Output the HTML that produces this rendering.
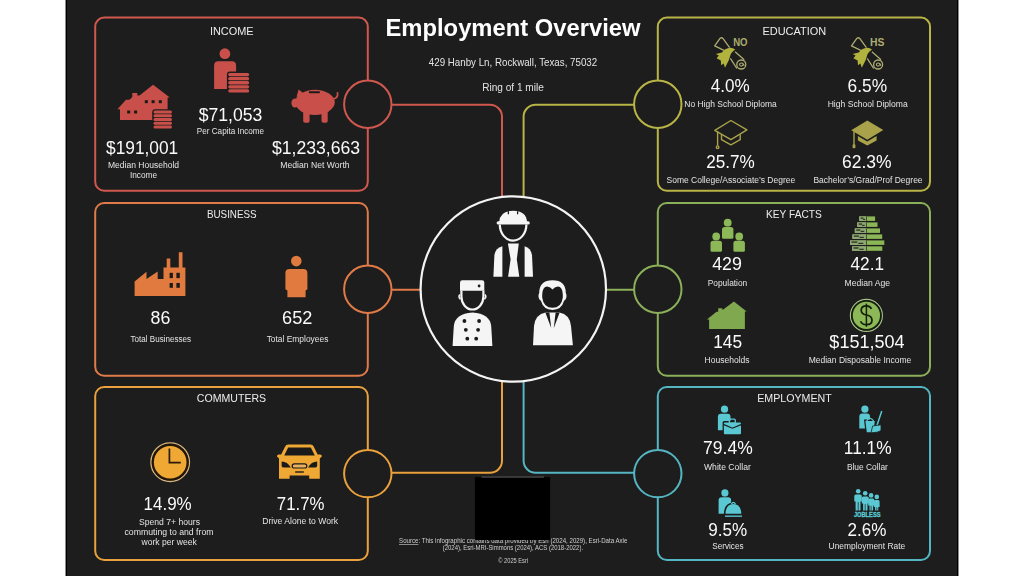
<!DOCTYPE html>
<html><head><meta charset="utf-8"><title>Employment Overview</title>
<style>
html,body{margin:0;padding:0;background:#fff;width:1024px;height:576px;overflow:hidden}
svg{display:block;position:absolute;left:0;top:0}
#ov{will-change:transform}
text{font-family:"Liberation Sans",sans-serif;text-anchor:middle}
</style></head><body>
<svg width="1024" height="576" viewBox="0 0 1024 576">
<rect x="0" y="0" width="1024" height="576" fill="#fff"/>
<rect x="65" y="0" width="894" height="576" fill="#8a8a8a"/>
<rect x="66" y="0" width="892" height="576" fill="#000"/>
<rect x="67" y="0" width="890" height="576" fill="#1c1d1c"/>
<rect x="95.2" y="17.6" width="272.6" height="173.2" rx="9" fill="none" stroke="#d0584e" stroke-width="2"/>
<rect x="95.2" y="203" width="272.6" height="172.8" rx="9" fill="none" stroke="#e07a48" stroke-width="2"/>
<rect x="95.2" y="387" width="272.6" height="173" rx="9" fill="none" stroke="#eaa03c" stroke-width="2"/>
<rect x="657.8" y="17.6" width="272.2" height="173.2" rx="9" fill="none" stroke="#b9b446" stroke-width="2"/>
<rect x="657.8" y="203" width="272.2" height="172.8" rx="9" fill="none" stroke="#8caf5a" stroke-width="2"/>
<rect x="657.8" y="387" width="272.2" height="173" rx="9" fill="none" stroke="#55b6c3" stroke-width="2"/>
<path d="M391.5,104.8 H490 A12,12 0 0 1 502,116.8 V205" fill="none" stroke="#d0584e" stroke-width="2"/>
<path d="M634,104.8 H535.6 A12,12 0 0 0 523.6,116.8 V205" fill="none" stroke="#b9b446" stroke-width="2"/>
<path d="M391.5,289.8 H425" fill="none" stroke="#e07a48" stroke-width="2"/>
<path d="M600,289.8 H634" fill="none" stroke="#8caf5a" stroke-width="2"/>
<path d="M391.5,472.8 H490 A12,12 0 0 0 502,460.8 V375" fill="none" stroke="#eaa03c" stroke-width="2"/>
<path d="M634,472.8 H535.6 A12,12 0 0 1 523.6,460.8 V375" fill="none" stroke="#55b6c3" stroke-width="2"/>
<circle cx="367.8" cy="104.3" r="23.7" fill="#1c1d1c" stroke="#d0584e" stroke-width="2"/>
<circle cx="367.8" cy="289.3" r="23.7" fill="#1c1d1c" stroke="#e07a48" stroke-width="2"/>
<circle cx="367.8" cy="473.6" r="23.7" fill="#1c1d1c" stroke="#eaa03c" stroke-width="2"/>
<circle cx="657.8" cy="104.3" r="23.7" fill="#1c1d1c" stroke="#b9b446" stroke-width="2"/>
<circle cx="657.8" cy="289.3" r="23.7" fill="#1c1d1c" stroke="#8caf5a" stroke-width="2"/>
<circle cx="657.8" cy="473.6" r="23.7" fill="#1c1d1c" stroke="#55b6c3" stroke-width="2"/>
<circle cx="513.3" cy="289" r="92.7" fill="#1c1d1c" stroke="#f4f4f4" stroke-width="2.2"/>
<path fill="#c9504a" d="M117.4,109.2 L126,99.8 L129.5,99.8 L132.3,97 L132.3,93 L137.3,93 L137.3,95.5 L139.5,95.5 L153.1,84.8 L169.8,97.6 L167.6,97.6 L167.6,120 L120,120 L120,109.2 Z"/>
<rect x="144.8" y="100.2" width="3" height="3" fill="#1a1a1a"/>
<rect x="151.6" y="100.2" width="3" height="3" fill="#1a1a1a"/>
<rect x="158.8" y="100.2" width="3" height="3" fill="#1a1a1a"/>
<rect x="127.2" y="110.5" width="3" height="3" fill="#1a1a1a"/>
<rect x="134.1" y="110.5" width="3" height="3" fill="#1a1a1a"/>
<rect x="152.2" y="109.3" width="21.1" height="20.35" rx="3" fill="#1c1d1c"/>
<rect x="153.5" y="110.60" width="18.5" height="3.0" rx="1.50" fill="#c9504a"/>
<rect x="153.5" y="114.35" width="18.5" height="3.0" rx="1.50" fill="#c9504a"/>
<rect x="153.5" y="118.10" width="18.5" height="3.0" rx="1.50" fill="#c9504a"/>
<rect x="153.5" y="121.85" width="18.5" height="3.0" rx="1.50" fill="#c9504a"/>
<rect x="153.5" y="125.60" width="18.5" height="3.0" rx="1.50" fill="#c9504a"/>
<circle cx="224.9" cy="53.7" r="5.4" fill="#c9504a"/>
<path fill="#c9504a" d="M214.1,65.5 Q214.1,61.2 218.4,61.2 H231.8 Q236.1,61.2 236.1,65.5 V88.9 H214.1 Z"/>
<rect x="226.89999999999998" y="71.60000000000001" width="23.6" height="22.1" rx="3" fill="#1c1d1c"/>
<rect x="228.2" y="72.90" width="21" height="3.3" rx="1.65" fill="#c9504a"/>
<rect x="228.2" y="77.00" width="21" height="3.3" rx="1.65" fill="#c9504a"/>
<rect x="228.2" y="81.10" width="21" height="3.3" rx="1.65" fill="#c9504a"/>
<rect x="228.2" y="85.20" width="21" height="3.3" rx="1.65" fill="#c9504a"/>
<rect x="228.2" y="89.30" width="21" height="3.3" rx="1.65" fill="#c9504a"/>
<g fill="#c9504a"><ellipse cx="315" cy="102.3" rx="19.8" ry="12.6"/><ellipse cx="295" cy="103" rx="3.6" ry="4.6"/><path d="M296.5,97 L298.6,89.4 L305,94.5 Z"/><rect x="303.2" y="108" width="6.4" height="14.7" rx="1.8"/><rect x="321.5" y="108" width="6.2" height="14.7" rx="1.8"/></g>
<path d="M333.5,99 Q338.5,97.5 337.5,93" fill="none" stroke="#c9504a" stroke-width="1.8" stroke-linecap="round"/>
<rect x="308.8" y="91.2" width="11.2" height="2" rx="1" fill="#1a1a1a"/>
<path fill="#e07a3e" d="M134.6,296.1 V281.5 L146.5,271.8 V279 L157.7,271.5 V279 H163.5 V267.4 H166.7 V258.6 H170.3 V267.4 H178.8 V252.3 H182.5 V267.4 H185.4 V296.1 Z"/>
<rect x="169.6" y="272.8" width="3.3" height="5.3" fill="#1a1a1a"/>
<rect x="176.4" y="272.8" width="3.4" height="5.3" fill="#1a1a1a"/>
<rect x="169.6" y="283" width="3.3" height="4.8" fill="#1a1a1a"/>
<rect x="176.4" y="283" width="3.4" height="4.8" fill="#1a1a1a"/>
<circle cx="296.3" cy="261.1" r="5.3" fill="#e07a3e"/>
<path fill="#e07a3e" d="M285.4,273.2 Q285.4,269.1 289.5,269.1 H303.3 Q307.4,269.1 307.4,273.2 V289.2 L305.6,290.5 V297.2 H287.4 V290.5 L285.4,289.2 Z"/>
<circle cx="170.2" cy="462.2" r="19.3" fill="none" stroke="#d8b47e" stroke-width="1.3"/>
<circle cx="170.2" cy="462.2" r="18.4" fill="#221608"/>
<circle cx="170.2" cy="462.2" r="16.3" fill="#f0a834"/>
<path d="M169.4,448.4 V462.6 H180.8" fill="none" stroke="#2a1a08" stroke-width="1.7"/>
<path fill="#f0a834" d="M288.3,444.6 H310.6 Q312.8,444.6 313.8,446.8 L317.6,454.6 L320.2,454.4 Q322.3,454.6 321.8,456.6 L319.8,458.4 V478.7 H309.2 V475.4 H289.6 V478.7 H279 V458.4 L277,456.6 Q276.6,454.6 278.6,454.4 L281.2,454.6 L285,446.8 Q286,444.6 288.3,444.6 Z"/>
<path fill="#1a1a1a" d="M288.2,447.4 H310.8 L314.8,455.4 H284.2 Z"/>
<path fill="#1a1a1a" d="M281.6,461.6 Q287.5,461.8 290.8,467.6 H284 Q281.6,467.6 281.6,465.4 Z"/>
<path fill="#1a1a1a" d="M317.2,461.6 Q311.3,461.8 308,467.6 H314.8 Q317.2,467.6 317.2,465.4 Z"/>
<rect x="292.2" y="463.8" width="14.6" height="4.2" rx="2.1" fill="#e8b060" stroke="#1a1a1a" stroke-width="1.2"/>
<rect x="295.2" y="471.3" width="8.6" height="1.4" fill="#1a1a1a"/>
<g transform="translate(0,0)"><path d="M729.6,47.7 L723.1,38.6 Q721.7,37.2 720.2,38.2 L714.7,45.9 L726,51.3" fill="none" stroke="#aeac72" stroke-width="1.3" stroke-linejoin="round"/><path d="M735.1,51.7 L744.2,59.7 M730.4,58.3 L736.9,68.5" fill="none" stroke="#aeac72" stroke-width="1.3"/><circle cx="741.3" cy="64.5" r="4.5" fill="#1c1d1c" stroke="#aeac72" stroke-width="1.3"/><path d="M742.8,64.6 A1.6,1.6 0 1 1 741.2,63 A2.8,2.8 0 0 1 744,66" fill="none" stroke="#aeac72" stroke-width="1.1"/><path fill="#b2b23e" d="M725.2,49.2 Q731,46 735.2,49.4 Q732.4,51.4 730.8,54 L728.8,60.2 L725,67.8 L723.6,63.4 L721.2,65.2 L720.8,60.6 L716.6,58.2 L718.8,55.6 L715.8,53.9 L721.8,52.4 Z"/><text x="740.4" y="45.9" font-size="10.2" font-weight="bold" fill="#aeac72" textLength="14.4" lengthAdjust="spacingAndGlyphs">NO</text></g>
<g transform="translate(136.8,0)"><path d="M729.6,47.7 L723.1,38.6 Q721.7,37.2 720.2,38.2 L714.7,45.9 L726,51.3" fill="none" stroke="#aeac72" stroke-width="1.3" stroke-linejoin="round"/><path d="M735.1,51.7 L744.2,59.7 M730.4,58.3 L736.9,68.5" fill="none" stroke="#aeac72" stroke-width="1.3"/><circle cx="741.3" cy="64.5" r="4.5" fill="#1c1d1c" stroke="#aeac72" stroke-width="1.3"/><path d="M742.8,64.6 A1.6,1.6 0 1 1 741.2,63 A2.8,2.8 0 0 1 744,66" fill="none" stroke="#aeac72" stroke-width="1.1"/><path fill="#b2b23e" d="M725.2,49.2 Q731,46 735.2,49.4 Q732.4,51.4 730.8,54 L728.8,60.2 L725,67.8 L723.6,63.4 L721.2,65.2 L720.8,60.6 L716.6,58.2 L718.8,55.6 L715.8,53.9 L721.8,52.4 Z"/><text x="740.4" y="45.9" font-size="10.2" font-weight="bold" fill="#aeac72" textLength="14.4" lengthAdjust="spacingAndGlyphs">HS</text></g>
<g fill="none" stroke="#a9a24a" stroke-width="1.4" stroke-linejoin="round"><path d="M714.8,130.3 L730.9,120.5 L746.9,129.9 L730.9,139.7 Z"/><path d="M721.5,134.6 V139.7 L730.9,144.8 L740.2,139.7 V134.6"/><path d="M717.6,131.3 V145.6"/><circle cx="717.6" cy="147.2" r="1.3"/></g>
<g transform="translate(136.4,0)"><path fill="#a9a24a" d="M714.8,130.3 L730.9,120.5 L746.9,129.9 L730.9,139.7 Z"/><path fill="#a9a24a" d="M721.5,136 L730.9,141.4 L740.2,136 V140.5 L730.9,145.6 L721.5,140.5 Z"/><path d="M717.6,131.3 V144.8" stroke="#a9a24a" stroke-width="1.4"/><rect x="716.2" y="144.2" width="2.8" height="4" rx="0.8" fill="#a9a24a"/></g>
<circle cx="727.7" cy="222.7" r="3.9" fill="#8cb858"/>
<path fill="#8cb858" d="M722,229.4 Q722,226.9 724.5,226.9 H730.9 Q733.4,226.9 733.4,229.4 V237.3 Q733.4,238.8 731.9,238.8 H723.5 Q722,238.8 722,237.3 Z"/>
<circle cx="716.2" cy="236.5" r="3.9" fill="#8cb858"/>
<path fill="#8cb858" d="M710.5,243.2 Q710.5,240.7 713.0,240.7 H719.5 Q722,240.7 722,243.2 V250.3 Q722,251.8 720.5,251.8 H712.0 Q710.5,251.8 710.5,250.3 Z"/>
<circle cx="739.2" cy="236.5" r="3.9" fill="#8cb858"/>
<path fill="#8cb858" d="M733.4,243.2 Q733.4,240.7 735.9,240.7 H742.4 Q744.9,240.7 744.9,243.2 V250.3 Q744.9,251.8 743.4,251.8 H734.9 Q733.4,251.8 733.4,250.3 Z"/>
<rect x="859.2" y="216.4" width="15.9" height="4.5" fill="#8ab656"/>
<rect x="859.2" y="216.4" width="7.4" height="4.5" fill="#8fa676"/>
<rect x="860.7" y="217.4" width="2.6" height="1.4" fill="#2e3a22"/>
<rect x="862.9" y="218.8" width="2.2" height="1.2" fill="#2e3a22"/>
<rect x="866.2" y="216.4" width="0.8" height="4.5" fill="#2e3a22"/>
<rect x="857.2" y="222.4" width="20.3" height="4.5" fill="#8ab656"/>
<rect x="857.2" y="222.4" width="9.4" height="4.5" fill="#8fa676"/>
<rect x="858.7" y="223.4" width="3.3" height="1.4" fill="#2e3a22"/>
<rect x="861.9" y="224.8" width="2.8" height="1.2" fill="#2e3a22"/>
<rect x="866.2" y="222.4" width="0.8" height="4.5" fill="#2e3a22"/>
<rect x="854.8" y="228.4" width="25.2" height="4.5" fill="#8ab656"/>
<rect x="854.8" y="228.4" width="11.8" height="4.5" fill="#8fa676"/>
<rect x="856.3" y="229.4" width="4.1" height="1.4" fill="#2e3a22"/>
<rect x="860.7" y="230.8" width="3.5" height="1.2" fill="#2e3a22"/>
<rect x="866.2" y="228.4" width="0.8" height="4.5" fill="#2e3a22"/>
<rect x="852.4" y="234.4" width="29.8" height="4.5" fill="#8ab656"/>
<rect x="852.4" y="234.4" width="14.2" height="4.5" fill="#8fa676"/>
<rect x="853.9" y="235.4" width="5.0" height="1.4" fill="#2e3a22"/>
<rect x="859.5" y="236.8" width="4.3" height="1.2" fill="#2e3a22"/>
<rect x="866.2" y="234.4" width="0.8" height="4.5" fill="#2e3a22"/>
<rect x="850" y="240.4" width="34.3" height="4.5" fill="#8ab656"/>
<rect x="850" y="240.4" width="16.6" height="4.5" fill="#8fa676"/>
<rect x="851.5" y="241.4" width="5.8" height="1.4" fill="#2e3a22"/>
<rect x="858.3" y="242.8" width="5.0" height="1.2" fill="#2e3a22"/>
<rect x="866.2" y="240.4" width="0.8" height="4.5" fill="#2e3a22"/>
<rect x="852" y="246.3" width="30.3" height="4.5" fill="#8ab656"/>
<rect x="852" y="246.3" width="14.6" height="4.5" fill="#8fa676"/>
<rect x="853.5" y="247.3" width="5.1" height="1.4" fill="#2e3a22"/>
<rect x="859.3" y="248.70000000000002" width="4.4" height="1.2" fill="#2e3a22"/>
<rect x="866.2" y="246.3" width="0.8" height="4.5" fill="#2e3a22"/>
<path fill="#80a84e" d="M706.9,319.5 L716.5,311.8 L718.2,311.8 L718.2,308.2 L722.2,308.2 L722.2,309.6 L723.3,309.6 L733.9,301.6 L746.7,311.5 L744.9,311.5 L744.9,329 L709.1,329 L709.1,319.5 Z"/>
<circle cx="866.4" cy="315.4" r="16" fill="none" stroke="#a8c088" stroke-width="1.2"/>
<circle cx="866.4" cy="315.4" r="15.2" fill="#14200c"/>
<circle cx="866.4" cy="315.4" r="13.6" fill="#8cb858"/>
<path d="M871.5,308.8 Q870,305.8 866.4,305.8 Q861.2,305.8 861.2,310.2 Q861.2,314 866.4,315 Q872,316 872,320.2 Q872,324.6 866.4,324.6 Q862,324.6 860.6,321.2" fill="none" stroke="#14200c" stroke-width="1.7"/>
<path d="M866.4,303.6 V326.8" stroke="#14200c" stroke-width="1.5"/>
<circle cx="724.5" cy="409.2" r="3.6" fill="#5ac8d2"/>
<path fill="#5ac8d2" d="M717.9,416.8 Q717.9,413.8 720.9,413.8 H727.5 Q730.5,413.8 730.5,416.8 V430.3 H717.9 Z"/>
<rect x="722.6" y="421.1" width="19.6" height="14.4" rx="1.5" fill="#1c1d1c"/>
<rect x="729.3" y="419.2" width="6" height="4" rx="1" fill="none" stroke="#5ac8d2" stroke-width="1.3"/>
<rect x="723.9" y="422.4" width="17.1" height="11.9" rx="1" fill="#5ac8d2"/>
<path d="M723.9,424.6 L732.4,428.2 L741,424.6" fill="none" stroke="#1c1d1c" stroke-width="1.2"/>
<circle cx="864.9" cy="409.2" r="3.6" fill="#5ac8d2"/>
<path fill="#5ac8d2" d="M859.3,416.4 Q859.3,413.4 862.3,413.4 H867 Q870,413.4 870,416.4 V428.6 H859.3 Z"/>
<path d="M864,419.5 L876,419.5 L874.2,433.6 L865.6,433.6 Z" fill="#1c1d1c"/>
<path d="M865.4,421 H874.8 L873.4,432.2 H866.8 Z" fill="#5ac8d2"/>
<path d="M866.6,421 Q870.1,415.6 873.6,421" fill="none" stroke="#5ac8d2" stroke-width="1.2"/>
<path d="M881.6,411.6 L876.8,426" stroke="#5ac8d2" stroke-width="1.5" stroke-linecap="round"/>
<path d="M872.6,426 L881,424.8 L881,430.6 Q878,432.8 871,432.8 Z" fill="#5ac8d2" stroke="#1c1d1c" stroke-width="0.8"/>
<circle cx="724.9" cy="492.9" r="3.6" fill="#5ac8d2"/>
<path fill="#5ac8d2" d="M718.6,500.2 Q718.6,497.2 721.6,497.2 H728.1 Q731.1,497.2 731.1,500.2 V513.7 H718.6 Z"/>
<path d="M723.8,514.6 Q724,502.4 733.4,502.4 Q742.8,502.4 743,514.6 Z" fill="#1c1d1c"/>
<path d="M725.5,513.8 Q725.8,504 733.4,504 Q741,504 741.3,513.8 Z" fill="#5ac8d2"/>
<path d="M731.2,504.2 Q733.4,500.6 735.6,504.2" fill="none" stroke="#5ac8d2" stroke-width="1.2"/>
<rect x="725" y="515.4" width="17" height="1.6" fill="#5ac8d2" opacity="0.85"/>
<circle cx="858.2" cy="491.3" r="2.3" fill="#5ac8d2"/>
<path fill="#5ac8d2" d="M854.3,496.1 Q854.3,494.6 855.8,494.6 H860.3 Q861.8,494.6 861.8,496.1 V501.6 H860.5 V510.4 H855.5999999999999 V501.6 H854.3 Z"/>
<path d="M858.2,502.1 V510.6" stroke="#1c1d1c" stroke-width="0.7"/>
<circle cx="865.2" cy="493.2" r="2.3" fill="#5ac8d2"/>
<path fill="#5ac8d2" d="M861.8,498.1 Q861.8,496.6 863.3,496.6 H867.3 Q868.8,496.6 868.8,498.1 V503.6 H867.5 V510.4 H863.0999999999999 V503.6 H861.8 Z"/>
<path d="M865.2,504.1 V510.6" stroke="#1c1d1c" stroke-width="0.7"/>
<circle cx="871.1" cy="495.4" r="2.3" fill="#5ac8d2"/>
<path fill="#5ac8d2" d="M868.2,499.9 Q868.2,498.4 869.7,498.4 H872.9 Q874.4,498.4 874.4,499.9 V505.4 H873.1 V510.4 H869.5 V505.4 H868.2 Z"/>
<path d="M871.1,505.9 V510.6" stroke="#1c1d1c" stroke-width="0.7"/>
<circle cx="876.8" cy="496.9" r="2.3" fill="#5ac8d2"/>
<path fill="#5ac8d2" d="M873.8,501.5 Q873.8,500 875.3,500 H878.1 Q879.6,500 879.6,501.5 V507 H878.3000000000001 V510.4 H875.0999999999999 V507 H873.8 Z"/>
<path d="M876.8,507.5 V510.6" stroke="#1c1d1c" stroke-width="0.7"/>
<text x="867.2" y="517.2" font-size="6.6" font-weight="bold" fill="#5ac8d2" stroke="#5ac8d2" stroke-width="0.35" textLength="26.6" lengthAdjust="spacingAndGlyphs">JOBLESS</text>
<path fill="#f5f5f5" d="M499.2,222.2 Q499.6,211 513.1,210.8 Q526.6,211 527,222.2 Z"/>
<rect x="496.6" y="221.2" width="33.2" height="3.4" rx="1.7" fill="#f5f5f5"/>
<path d="M508.4,211.2 V214.2 M517.6,211.2 V214.2" stroke="#1a1a1a" stroke-width="1.3"/>
<path d="M499.8,224.6 A13.3,16 0 0 0 526.4,224.6" fill="none" stroke="#f5f5f5" stroke-width="2.2"/>
<path fill="#f5f5f5" d="M493.4,276.8 L494.4,255 Q495.6,248 502.4,246.2 V276.8 Z"/>
<path fill="#f5f5f5" d="M533,276.8 L532,255 Q530.8,248 524.6,246.2 V276.8 Z"/>
<path fill="#f5f5f5" d="M507.9,243.6 H518.8 L516.8,259.3 L519.3,276.8 H508.1 L510.6,259.3 Z"/>
<path fill="#f5f5f5" d="M460,290.7 V282.6 Q460,280.3 462.3,280.3 H482 Q484.3,280.3 484.3,282.6 V290.7 Z"/>
<circle cx="479.1" cy="286" r="1.4" fill="#1a1a1a"/>
<path d="M461.4,290.6 V296.5 A11,13 0 0 0 483.4,296.5 V290.6" fill="none" stroke="#f5f5f5" stroke-width="2.2"/>
<path d="M460,294.5 Q457.8,296.5 460.4,299.2 M484.8,294.5 Q487,296.5 484.4,299.2" fill="none" stroke="#f5f5f5" stroke-width="1.6"/>
<path fill="#f5f5f5" d="M452.6,346 L453.8,326 Q455,313.6 472.5,312.4 Q490,313.6 491.2,326 L492.4,346 Z"/>
<circle cx="464.4" cy="321" r="1.9" fill="#1a1a1a"/>
<circle cx="479.1" cy="321" r="1.9" fill="#1a1a1a"/>
<circle cx="465.8" cy="329.8" r="1.9" fill="#1a1a1a"/>
<circle cx="478.1" cy="329.8" r="1.9" fill="#1a1a1a"/>
<circle cx="467.3" cy="338.7" r="1.9" fill="#1a1a1a"/>
<circle cx="476.2" cy="338.7" r="1.9" fill="#1a1a1a"/>
<path fill="#f5f5f5" d="M539.2,293 Q539.2,280.3 552.5,280.3 Q565.8,280.3 565.8,293 Q566.8,294 566.4,297.5 Q565.6,300 564.2,300.5 Q561.5,309.9 552.5,309.9 Q543.5,309.9 540.8,300.5 Q539.4,300 538.6,297.5 Q538.2,294 539.2,293 Z"/>
<path fill="#1a1a1a" d="M542.2,294.5 Q542.4,286.6 547.2,286.4 Q550.6,286.8 552.5,289.6 Q554.4,286.8 557.8,286.4 Q562.6,286.6 562.8,294.5 V297.4 Q561.4,307.8 552.5,307.8 Q543.6,307.8 542.2,297.4 Z"/>
<path fill="#f5f5f5" d="M533,345.3 L534,326 Q535.2,314.2 545.6,312.4 H559.4 Q569.8,314.2 571,326 L572.9,345.3 Z"/>
<path fill="#1a1a1a" d="M545.4,312.4 H549.4 L551.2,328 Z"/>
<path fill="#1a1a1a" d="M559.6,312.4 H555.6 L553.8,328 Z"/>
<path fill="#1a1a1a" d="M550.2,312.4 H554.8 L553.6,314.6 H551.4 Z" opacity="0"/>
</svg>
<svg id="ov" width="1024" height="576" viewBox="0 0 1024 576">
<text x="513" y="36" font-size="23.6" fill="#ffffff" font-weight="bold" textLength="255" lengthAdjust="spacingAndGlyphs">Employment Overview</text>
<text x="513" y="66.3" font-size="10.7" fill="#e4e4e4" font-weight="normal" textLength="168.3" lengthAdjust="spacingAndGlyphs">429 Hanby Ln, Rockwall, Texas, 75032</text>
<text x="513" y="90.8" font-size="10.7" fill="#e4e4e4" font-weight="normal" textLength="61.7" lengthAdjust="spacingAndGlyphs">Ring of 1 mile</text>
<text x="231.8" y="34.6" font-size="11.3" fill="#ececec" font-weight="normal" textLength="43.8" lengthAdjust="spacingAndGlyphs">INCOME</text>
<text x="230.5" y="120.5" font-size="17.5" fill="#fafafa" font-weight="normal" textLength="63.7" lengthAdjust="spacingAndGlyphs">$71,053</text>
<text x="230.5" y="134.4" font-size="8.5" fill="#e4e4e4" font-weight="normal" textLength="67.3" lengthAdjust="spacingAndGlyphs">Per Capita Income</text>
<text x="142.1" y="153.9" font-size="17.5" fill="#fafafa" font-weight="normal" textLength="72.2" lengthAdjust="spacingAndGlyphs">$191,001</text>
<text x="143.5" y="168" font-size="8.5" fill="#e4e4e4" font-weight="normal" textLength="71.2" lengthAdjust="spacingAndGlyphs">Median Household</text>
<text x="143.5" y="178" font-size="8.5" fill="#e4e4e4" font-weight="normal" textLength="27.2" lengthAdjust="spacingAndGlyphs">Income</text>
<text x="316" y="153.9" font-size="17.5" fill="#fafafa" font-weight="normal" textLength="88.1" lengthAdjust="spacingAndGlyphs">$1,233,663</text>
<text x="315" y="168" font-size="8.5" fill="#e4e4e4" font-weight="normal" textLength="69.3" lengthAdjust="spacingAndGlyphs">Median Net Worth</text>
<text x="231.8" y="218.1" font-size="11.3" fill="#ececec" font-weight="normal" textLength="49.8" lengthAdjust="spacingAndGlyphs">BUSINESS</text>
<text x="160.5" y="324.2" font-size="17.5" fill="#fafafa" font-weight="normal" textLength="19.8" lengthAdjust="spacingAndGlyphs">86</text>
<text x="160.8" y="341.8" font-size="8.5" fill="#e4e4e4" font-weight="normal" textLength="60.4" lengthAdjust="spacingAndGlyphs">Total Businesses</text>
<text x="297.2" y="324.2" font-size="17.5" fill="#fafafa" font-weight="normal" textLength="30.3" lengthAdjust="spacingAndGlyphs">652</text>
<text x="297.5" y="341.8" font-size="8.5" fill="#e4e4e4" font-weight="normal" textLength="61.7" lengthAdjust="spacingAndGlyphs">Total Employees</text>
<text x="231.5" y="402" font-size="11.3" fill="#ececec" font-weight="normal" textLength="69.3" lengthAdjust="spacingAndGlyphs">COMMUTERS</text>
<text x="167.6" y="510" font-size="17.5" fill="#fafafa" font-weight="normal" textLength="48.1" lengthAdjust="spacingAndGlyphs">14.9%</text>
<text x="169.5" y="525.2" font-size="8.5" fill="#e4e4e4" font-weight="normal" textLength="60.9" lengthAdjust="spacingAndGlyphs">Spend 7+ hours</text>
<text x="169" y="535" font-size="8.5" fill="#e4e4e4" font-weight="normal" textLength="89" lengthAdjust="spacingAndGlyphs">commuting to and from</text>
<text x="169.2" y="545" font-size="8.5" fill="#e4e4e4" font-weight="normal" textLength="55.3" lengthAdjust="spacingAndGlyphs">work per week</text>
<text x="300.7" y="510" font-size="17.5" fill="#fafafa" font-weight="normal" textLength="47.7" lengthAdjust="spacingAndGlyphs">71.7%</text>
<text x="300.2" y="524" font-size="8.5" fill="#e4e4e4" font-weight="normal" textLength="76" lengthAdjust="spacingAndGlyphs">Drive Alone to Work</text>
<text x="794.3" y="34.6" font-size="11.3" fill="#ececec" font-weight="normal" textLength="63.8" lengthAdjust="spacingAndGlyphs">EDUCATION</text>
<text x="730.2" y="91.5" font-size="17.5" fill="#fafafa" font-weight="normal" textLength="38.9" lengthAdjust="spacingAndGlyphs">4.0%</text>
<text x="730.5" y="107.3" font-size="8.5" fill="#e4e4e4" font-weight="normal" textLength="92.4" lengthAdjust="spacingAndGlyphs">No High School Diploma</text>
<text x="867.3" y="91.5" font-size="17.5" fill="#fafafa" font-weight="normal" textLength="39.5" lengthAdjust="spacingAndGlyphs">6.5%</text>
<text x="867.7" y="107.3" font-size="8.5" fill="#e4e4e4" font-weight="normal" textLength="80" lengthAdjust="spacingAndGlyphs">High School Diploma</text>
<text x="730.5" y="168" font-size="17.5" fill="#fafafa" font-weight="normal" textLength="48.6" lengthAdjust="spacingAndGlyphs">25.7%</text>
<text x="730.9" y="182.6" font-size="8.5" fill="#e4e4e4" font-weight="normal" textLength="128.6" lengthAdjust="spacingAndGlyphs">Some College/Associate’s Degree</text>
<text x="866.8" y="168" font-size="17.5" fill="#fafafa" font-weight="normal" textLength="49.6" lengthAdjust="spacingAndGlyphs">62.3%</text>
<text x="868" y="182.6" font-size="8.5" fill="#e4e4e4" font-weight="normal" textLength="109.2" lengthAdjust="spacingAndGlyphs">Bachelor’s/Grad/Prof Degree</text>
<text x="793.9" y="218" font-size="11.3" fill="#ececec" font-weight="normal" textLength="55.7" lengthAdjust="spacingAndGlyphs">KEY FACTS</text>
<text x="727.1" y="270.4" font-size="17.5" fill="#fafafa" font-weight="normal" textLength="29.8" lengthAdjust="spacingAndGlyphs">429</text>
<text x="727.5" y="285.6" font-size="8.5" fill="#e4e4e4" font-weight="normal" textLength="39.5" lengthAdjust="spacingAndGlyphs">Population</text>
<text x="867.3" y="270.4" font-size="17.5" fill="#fafafa" font-weight="normal" textLength="33.5" lengthAdjust="spacingAndGlyphs">42.1</text>
<text x="867.3" y="285.6" font-size="8.5" fill="#e4e4e4" font-weight="normal" textLength="45.5" lengthAdjust="spacingAndGlyphs">Median Age</text>
<text x="727.6" y="347.9" font-size="17.5" fill="#fafafa" font-weight="normal" textLength="28.9" lengthAdjust="spacingAndGlyphs">145</text>
<text x="727.1" y="362.5" font-size="8.5" fill="#e4e4e4" font-weight="normal" textLength="45" lengthAdjust="spacingAndGlyphs">Households</text>
<text x="867" y="347.9" font-size="17.5" fill="#fafafa" font-weight="normal" textLength="75.3" lengthAdjust="spacingAndGlyphs">$151,504</text>
<text x="860" y="362.5" font-size="8.5" fill="#e4e4e4" font-weight="normal" textLength="102.7" lengthAdjust="spacingAndGlyphs">Median Disposable Income</text>
<text x="794.5" y="402" font-size="11.3" fill="#ececec" font-weight="normal" textLength="74.5" lengthAdjust="spacingAndGlyphs">EMPLOYMENT</text>
<text x="727.9" y="454.4" font-size="17.5" fill="#fafafa" font-weight="normal" textLength="49.6" lengthAdjust="spacingAndGlyphs">79.4%</text>
<text x="727.4" y="469.6" font-size="8.5" fill="#e4e4e4" font-weight="normal" textLength="46.8" lengthAdjust="spacingAndGlyphs">White Collar</text>
<text x="867.7" y="454.4" font-size="17.5" fill="#fafafa" font-weight="normal" textLength="47.8" lengthAdjust="spacingAndGlyphs">11.1%</text>
<text x="867.4" y="469.6" font-size="8.5" fill="#e4e4e4" font-weight="normal" textLength="41" lengthAdjust="spacingAndGlyphs">Blue Collar</text>
<text x="727.8" y="535.5" font-size="17.5" fill="#fafafa" font-weight="normal" textLength="38.9" lengthAdjust="spacingAndGlyphs">9.5%</text>
<text x="727.9" y="549.2" font-size="8.5" fill="#e4e4e4" font-weight="normal" textLength="31.3" lengthAdjust="spacingAndGlyphs">Services</text>
<text x="867" y="535.5" font-size="17.5" fill="#fafafa" font-weight="normal" textLength="38.9" lengthAdjust="spacingAndGlyphs">2.6%</text>
<text x="866.9" y="549.2" font-size="8.5" fill="#e4e4e4" font-weight="normal" textLength="76.6" lengthAdjust="spacingAndGlyphs">Unemployment Rate</text>
<text x="513.2" y="543.1" font-size="6.3" fill="#d0d0d0" textLength="228.3" lengthAdjust="spacingAndGlyphs"><tspan text-decoration="underline">Source</tspan>: This infographic contains data provided by Esri (2024, 2029), Esri-Data Axle</text>
<text x="512.9" y="550.2" font-size="6.3" fill="#d0d0d0" font-weight="normal" textLength="140.3" lengthAdjust="spacingAndGlyphs">(2024), Esri-MRI-Simmons (2024), ACS (2018-2022).</text>
<text x="513.2" y="563" font-size="6.3" fill="#d0d0d0" font-weight="normal" textLength="29.8" lengthAdjust="spacingAndGlyphs">© 2025 Esri</text>
<rect x="474.9" y="477.2" width="75.2" height="62.8" fill="#000"/><rect x="481.5" y="476.6" width="62.5" height="0.9" fill="#6a666c"/>
</svg>
</body></html>
